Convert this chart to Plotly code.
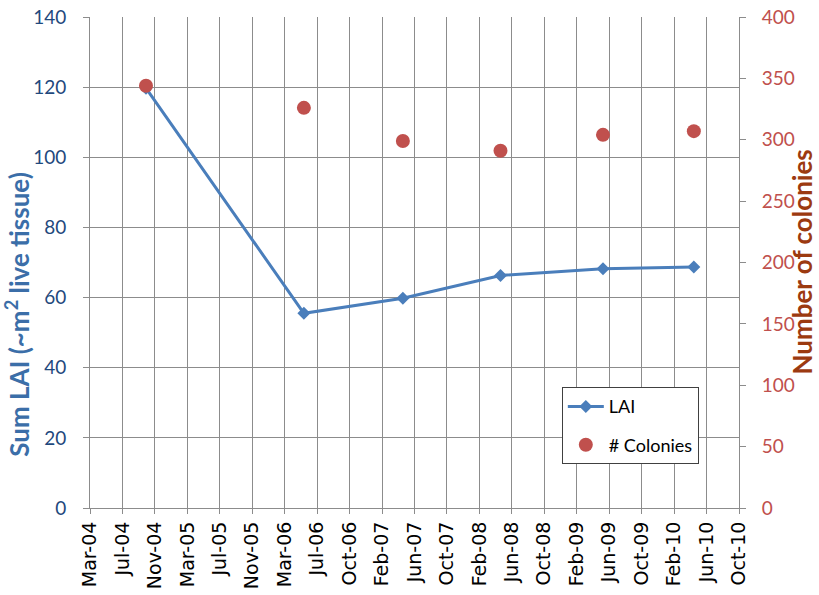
import pandas as pd
import plotly.graph_objects as go

# Survey dates and measurements
survey_dates = ["2004-10-08", "2006-05-15", "2007-05-16", "2008-05-11", "2009-05-25", "2010-04-26"]
sum_lai = [119.7, 55.5, 59.8, 66.3, 68.2, 68.7]
colonies = [344, 326, 299, 291, 304, 307]

# Date axis: ticks every 120 days from mid-March 2004
axis_start = "2004-03-15"
tick_labels = ["Mar-04", "Jul-04", "Nov-04", "Mar-05", "Jul-05", "Nov-05", "Mar-06",
               "Jul-06", "Oct-06", "Feb-07", "Jun-07", "Oct-07", "Feb-08", "Jun-08",
               "Oct-08", "Feb-09", "Jun-09", "Oct-09", "Feb-10", "Jun-10", "Oct-10"]
tick_dates = pd.date_range(axis_start, periods=len(tick_labels), freq="120D")

BLUE = "#4A7EBB"
RED = "#C0504D"
GRID = "#8C8C8C"

fig = go.Figure()
fig.add_trace(go.Scatter(
    x=survey_dates, y=sum_lai, name="LAI", mode="lines+markers", legendgroup="lai",
    line=dict(color=BLUE, width=3),
    marker=dict(symbol="diamond", size=10, color=BLUE),
))
fig.add_trace(go.Scatter(
    x=survey_dates, y=colonies, name="# Colonies", mode="markers", legendgroup="col",
    marker=dict(symbol="circle", size=14, color=RED), yaxis="y2",
))

fig.update_layout(
    width=819, height=595,
    margin=dict(l=90, r=80, t=17, b=87),
    plot_bgcolor="white", paper_bgcolor="white",
    font=dict(family="Lato, Carlito, sans-serif"),
    showlegend=True,
    legend=dict(
        x=0.727, y=0.246, xanchor="left", yanchor="top",
        bgcolor="white", bordercolor="#404040", borderwidth=1,
        font=dict(size=18, color="black", family="Lato, sans-serif"),
        tracegroupgap=12, itemwidth=36,
    ),
    xaxis=dict(
        type="date", automargin=False,
        range=[tick_dates[0], tick_dates[-1]],
        tickmode="array", tickvals=list(tick_dates), ticktext=tick_labels,
        tickangle=-90,
        tickfont=dict(family="DejaVu Sans", size=19, color="black"),
        showgrid=True, gridcolor=GRID, gridwidth=1,
        showline=True, linecolor=GRID, linewidth=1,
        ticks="outside", ticklen=5, tickcolor=GRID,
        zeroline=False,
    ),
    yaxis=dict(
        range=[0, 140], dtick=20, automargin=False,
        tickfont=dict(size=19, color="#1F497D"),
        ticklabelstandoff=13,
        showgrid=True, gridcolor=GRID, gridwidth=1,
        showline=True, linecolor=GRID, linewidth=1,
        ticks="outside", ticklen=6, tickcolor=GRID,
        zeroline=False,
    ),
    yaxis2=dict(
        range=[0, 400], dtick=50, overlaying="y", side="right", automargin=False,
        tickfont=dict(size=19, color=RED),
        ticklabelstandoff=12,
        showgrid=False,
        showline=True, linecolor=GRID, linewidth=1,
        ticks="outside", ticklen=6, tickcolor=GRID,
        zeroline=False,
    ),
    annotations=[
        dict(text="<b>Sum LAI (~m<sup>2</sup> live tissue)</b>", textangle=-90,
             xref="paper", yref="paper", x=-0.113, y=0.395,
             xanchor="center", yanchor="middle", showarrow=False,
             font=dict(size=26, color="#3B6EA8", family="Lato, sans-serif")),
        dict(text="<b>Number of colonies</b>", textangle=-90,
             xref="paper", yref="paper", x=1.1233, y=0.5,
             xanchor="right", yanchor="middle", showarrow=False,
             font=dict(size=26, color="#9C3A10", family="Lato, sans-serif")),
    ],
)

fig.write_html("out.html")
